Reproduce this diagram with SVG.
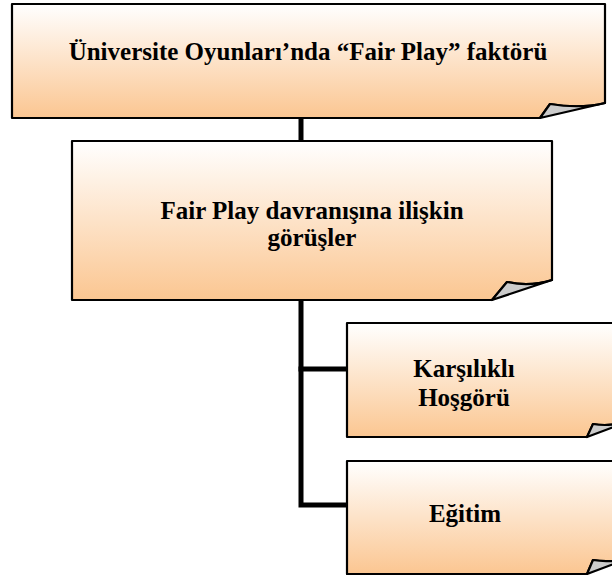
<svg xmlns="http://www.w3.org/2000/svg" width="612" height="575" viewBox="0 0 612 575">
<defs>
<linearGradient id="g" x1="0" y1="0" x2="0" y2="1">
<stop offset="0" stop-color="#FFFFFF"/>
<stop offset="1" stop-color="#FBC691"/>
</linearGradient>
<style>
.body{fill:url(#g);stroke:#000;stroke-width:2.2;stroke-linejoin:round}
.fold{fill:#CCCCCC;stroke:#000;stroke-width:2.2;stroke-linejoin:round}
.t{font-family:"Liberation Serif","Times New Roman",serif;font-weight:bold;font-size:25px;fill:#000;text-anchor:middle}
.c{stroke:#000;stroke-width:5;fill:none;stroke-linecap:square}
</style>
</defs>
<g id="connectors">
<line class="c" x1="301" y1="120" x2="301" y2="140"/>
<polyline class="c" points="301,301 301,505 345,505"/>
<line class="c" x1="301" y1="369" x2="345" y2="369"/>
</g>
<g id="n1">
<path class="body" d="M12,4 H605 V103 Q580,109 550,104 L540,118 H12 Z"/>
<path class="fold" d="M540,118 L550,104 Q580,109 605,103 Z"/>
<text class="t" x="308" y="60">Üniversite Oyunları’nda “Fair Play” faktörü</text>
</g>
<g id="n2">
<path class="body" d="M72,141 H552 V280 Q530,287 507,282 L492,300 H72 Z"/>
<path class="fold" d="M492,300 L507,282 Q530,287 552,280 Z"/>
<text class="t" x="312" y="219">Fair Play davranışına ilişkin</text>
<text class="t" x="312" y="246">görüşler</text>
</g>
<g id="n3">
<path class="body" d="M347,323 H630 V421 Q610,427 593,424 L587,437 H347 Z"/>
<path class="fold" d="M587,437 L593,424 Q610,427 630,421 Z"/>
<text class="t" x="464" y="377">Karşılıklı</text>
<text class="t" x="464" y="406">Hoşgörü</text>
</g>
<g id="n4">
<path class="body" d="M347,461 H630 V558 Q610,563 593,560 L587,574 H347 Z"/>
<path class="fold" d="M587,574 L593,560 Q610,563 630,558 Z"/>
<text class="t" x="465" y="522">Eğitim</text>
</g>
</svg>
